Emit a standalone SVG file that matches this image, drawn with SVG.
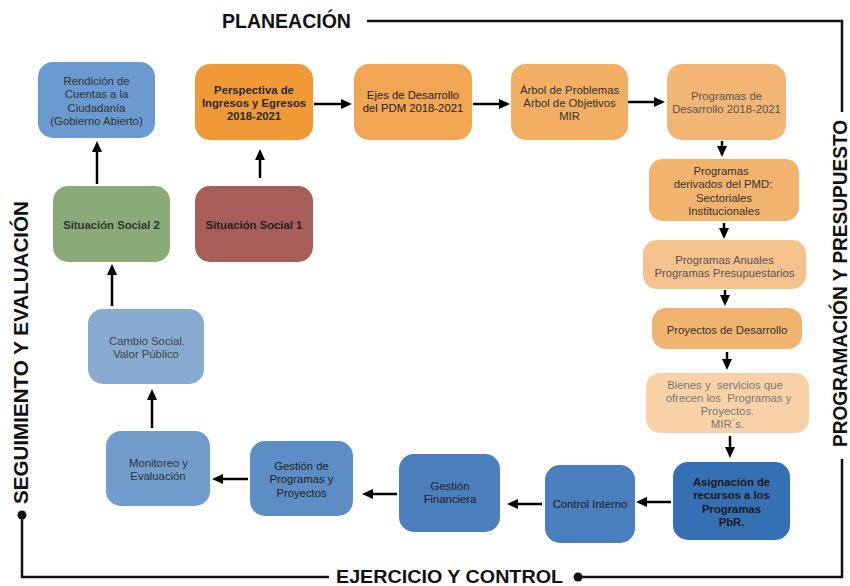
<svg xmlns="http://www.w3.org/2000/svg" width="850" height="586" viewBox="0 0 850 586">
<style>
.t{font-family:"Liberation Sans",Arial,Helvetica,sans-serif;font-size:11.3px;text-anchor:middle;fill:#333}
.b{font-weight:bold}
.lbl{font-family:"Liberation Sans",Arial,Helvetica,sans-serif;font-size:19.5px;font-weight:bold;fill:#111}
.frame{fill:none;stroke:#111;stroke-width:2.5}
.arr{fill:none;stroke:#000;stroke-width:2.5;marker-end:url(#ah)}
.pre{white-space:pre}
</style>
<defs>
<marker id="ah" markerUnits="userSpaceOnUse" markerWidth="12" markerHeight="11" refX="5" refY="5" orient="auto">
<path d="M0,0 L11,5 L0,10 z" fill="#000"/>
</marker>
</defs>
<rect width="850" height="586" fill="#fff"/>

<g id="frame">
<path class="frame" d="M367,21 H842 V112"/>
<path class="frame" d="M842,459 V577 H578"/>
<circle cx="578" cy="577" r="4.5" fill="#111"/>
<path class="frame" d="M329,577 H22 V515"/>
<circle cx="22" cy="515" r="4.5" fill="#111"/>
<text class="lbl" x="222" y="28">PLANEACIÓN</text>
<text class="lbl" x="336" y="583" textLength="227" lengthAdjust="spacingAndGlyphs" style="font-size:19px">EJERCICIO Y CONTROL</text>
<text class="lbl" transform="translate(847,447) rotate(-90)" textLength="327" lengthAdjust="spacingAndGlyphs">PROGRAMACIÓN Y PRESUPUESTO</text>
<text class="lbl" transform="translate(28,504) rotate(-90)" textLength="303" lengthAdjust="spacingAndGlyphs">SEGUIMIENTO Y EVALUACIÓN</text>
</g>

<g id="n-rendicion">
<rect x="38" y="62" width="117" height="76" rx="15" fill="#6A9ACF"/>
<text class="t" fill="#3a3a3a"><tspan x="96.5" y="85">Rendición de</tspan><tspan x="96.5" y="98.3">Cuentas a la</tspan><tspan x="96.5" y="111.6">Ciudadanía</tspan><tspan x="96.5" y="124.9">(Gobierno Abierto)</tspan></text>
</g>
<g id="n-perspectiva">
<rect x="195" y="64" width="118" height="76" rx="15" fill="#F09A37"/>
<text class="t b" style="fill:#2a2a2a"><tspan x="254" y="93.5">Perspectiva de</tspan><tspan x="254" y="106.8">Ingresos y Egresos</tspan><tspan x="254" y="120.1">2018-2021</tspan></text>
</g>
<g id="n-ejes">
<rect x="354" y="64" width="118" height="76" rx="15" fill="#F2A552"/>
<text class="t" style="fill:#222"><tspan x="413" y="99">Ejes de Desarrollo</tspan><tspan x="413" y="112.3">del PDM 2018-2021</tspan></text>
</g>
<g id="n-arbol">
<rect x="511" y="64" width="117" height="76" rx="15" fill="#F2AE63"/>
<text class="t" style="fill:#333"><tspan x="569.5" y="93.5">Árbol de Problemas</tspan><tspan x="569.5" y="106.8">Árbol de Objetivos</tspan><tspan x="569.5" y="120.1">MIR</tspan></text>
</g>
<g id="n-progdes">
<rect x="667" y="64" width="119" height="76" rx="15" fill="#F2B574"/>
<text class="t" style="fill:#555"><tspan x="726.5" y="100">Programas de</tspan><tspan x="726.5" y="113.3">Desarrollo 2018-2021</tspan></text>
</g>
<g id="n-derivados">
<rect x="649" y="159" width="150" height="62" rx="14" fill="#F1B36E"/>
<text class="t" style="fill:#333"><tspan x="721" y="175">Programas</tspan><tspan x="723" y="188.3">derivados del PMD:</tspan><tspan x="724" y="201.6">Sectoriales</tspan><tspan x="724" y="214.9">Institucionales</tspan></text>
</g>
<g id="n-anuales">
<rect x="643" y="240" width="163" height="49" rx="14" fill="#F5C18D"/>
<text class="t" style="fill:#555"><tspan x="724.5" y="264">Programas Anuales</tspan><tspan x="724.5" y="277.3">Programas Presupuestarios</tspan></text>
</g>
<g id="n-proyectos">
<rect x="652" y="308" width="150" height="41" rx="14" fill="#F1B46E"/>
<text class="t" style="fill:#333" x="727" y="334">Proyectos de Desarrollo</text>
</g>
<g id="n-bienes">
<rect x="646" y="373" width="163" height="60" rx="14" fill="#F8D2A6"/>
<text class="t pre" style="fill:#777"><tspan x="725" y="388.5">Bienes y  servicios que</tspan><tspan x="728.5" y="401.8">ofrecen los  Programas y</tspan><tspan x="727.5" y="415.1">Proyectos.</tspan><tspan x="727.5" y="428.4">MIR´s.</tspan></text>
</g>
<g id="n-asignacion">
<rect x="673" y="462" width="117" height="78" rx="15" fill="#3470B3"/>
<text class="t b" style="fill:#1a1a1a"><tspan x="731.5" y="486">Asignación de</tspan><tspan x="731.5" y="499.3">recursos a los</tspan><tspan x="731.5" y="512.6">Programas</tspan><tspan x="731.5" y="525.9">PbR.</tspan></text>
</g>
<g id="n-control">
<rect x="545" y="465" width="90" height="78" rx="15" fill="#4A7FBF"/>
<text class="t" style="fill:#1a1a1a" x="590" y="507.5">Control Interno</text>
</g>
<g id="n-financiera">
<rect x="399" y="454" width="101" height="78" rx="15" fill="#4A7EBD"/>
<text class="t" style="fill:#222"><tspan x="450" y="490">Gestión</tspan><tspan x="450" y="503.3">Financiera</tspan></text>
</g>
<g id="n-gestprog">
<rect x="250" y="441" width="103" height="75" rx="15" fill="#5C8EC5"/>
<text class="t" style="fill:#222"><tspan x="301.5" y="470">Gestión de</tspan><tspan x="301.5" y="483.3">Programas y</tspan><tspan x="301.5" y="496.6">Proyectos</tspan></text>
</g>
<g id="n-monitoreo">
<rect x="106" y="431" width="104" height="75" rx="15" fill="#709DCB"/>
<text class="t" style="fill:#333"><tspan x="158.5" y="467">Monitoreo y</tspan><tspan x="158" y="480.3">Evaluación</tspan></text>
</g>
<g id="n-cambio">
<rect x="88" y="309" width="116" height="75" rx="15" fill="#86AAD0"/>
<text class="t" style="fill:#444"><tspan x="147" y="345">Cambio Social.</tspan><tspan x="146" y="357.8">Valor Público</tspan></text>
</g>
<g id="n-ss2">
<rect x="53" y="186" width="117" height="76" rx="15" fill="#8AAB78"/>
<text class="t b" style="fill:#333" x="111.5" y="228.5">Situación Social 2</text>
</g>
<g id="n-ss1">
<rect x="195" y="186" width="118" height="76" rx="15" fill="#A85E58"/>
<text class="t b" style="fill:#222" x="254" y="228.5">Situación Social 1</text>
</g>

<g id="connectors">
<line class="arr" x1="97" y1="184" x2="97" y2="147"/>
<line class="arr" x1="260" y1="178" x2="260" y2="155"/>
<line class="arr" x1="112" y1="306" x2="112" y2="270"/>
<line class="arr" x1="152" y1="428" x2="152" y2="395"/>
<line class="arr" x1="248" y1="479" x2="218" y2="479"/>
<line class="arr" x1="397" y1="494" x2="368" y2="494"/>
<line class="arr" x1="542" y1="504" x2="513" y2="504"/>
<line class="arr" x1="671" y1="502" x2="642" y2="502"/>
<line class="arr" x1="314" y1="104" x2="346" y2="104"/>
<line class="arr" x1="473" y1="104" x2="504" y2="104"/>
<line class="arr" x1="628" y1="102" x2="659" y2="102"/>
<line class="arr" x1="722" y1="141" x2="722" y2="151"/>
<line class="arr" x1="724" y1="223" x2="724" y2="233"/>
<line class="arr" x1="725" y1="290" x2="725" y2="300"/>
<line class="arr" x1="727" y1="352" x2="727" y2="364"/>
<line class="arr" x1="730" y1="436" x2="730" y2="452"/>
</g>
</svg>
